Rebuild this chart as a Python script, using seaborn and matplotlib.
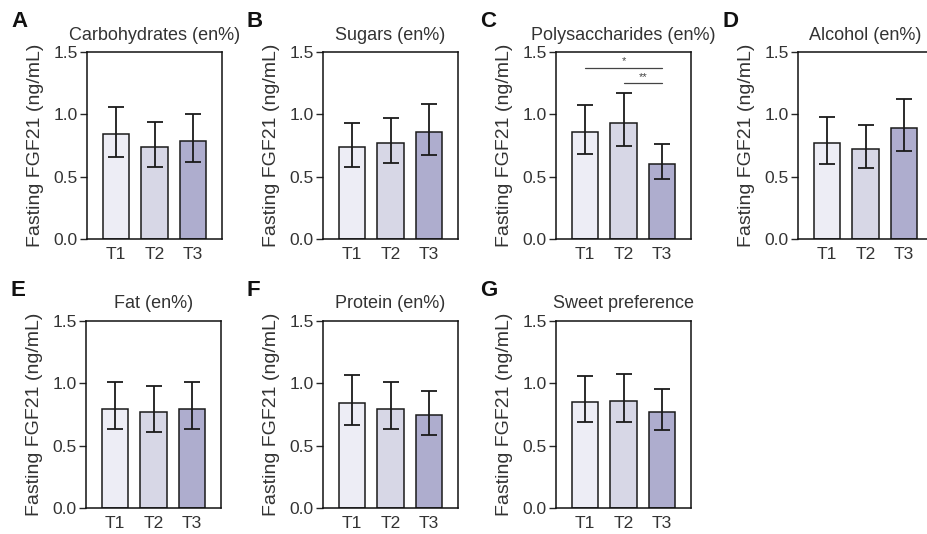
import matplotlib
matplotlib.use("Agg")
import matplotlib.pyplot as plt
import seaborn as sns
import numpy as np
import pandas as pd

sns.set_theme(style="ticks")
plt.rcParams["font.family"] = ["Liberation Sans", "DejaVu Sans"]

# Tertile groups and bar colours
tertiles = ["T1", "T2", "T3"]
tertile_colors = ["#ececf6", "#d4d5e9", "#a9a8d3"]

# Fasting FGF21 (ng/mL): mean with lower / upper bounds of the interval
carb_mean = [0.84, 0.74, 0.79]
carb_lo = [0.66, 0.58, 0.62]
carb_hi = [1.06, 0.935, 1.00]

sugar_mean = [0.735, 0.767, 0.855]
sugar_lo = [0.577, 0.609, 0.674]
sugar_hi = [0.933, 0.973, 1.083]

poly_mean = [0.858, 0.933, 0.604]
poly_lo = [0.682, 0.746, 0.481]
poly_hi = [1.078, 1.174, 0.762]

alcohol_mean = [0.769, 0.721, 0.892]
alcohol_lo = [0.605, 0.573, 0.705]
alcohol_hi = [0.975, 0.911, 1.125]

fat_mean = [0.796, 0.771, 0.796]
fat_lo = [0.630, 0.608, 0.630]
fat_hi = [1.010, 0.978, 1.010]

protein_mean = [0.841, 0.796, 0.745]
protein_lo = [0.667, 0.630, 0.589]
protein_hi = [1.066, 1.010, 0.938]

sweet_mean = [0.852, 0.857, 0.771]
sweet_lo = [0.691, 0.686, 0.624]
sweet_hi = [1.058, 1.074, 0.956]

# Pairwise significance for polysaccharides: (group a, group b, bracket height, label)
poly_sig = [(0, 2, 1.374, "*"), (1, 2, 1.249, "**")]

y_ticks = [0.0, 0.5, 1.0, 1.5]
y_label = "Fasting FGF21 (ng/mL)"

panels = [
    ("A", "Carbohydrates (en%)", carb_mean, carb_lo, carb_hi, None),
    ("B", "Sugars (en%)", sugar_mean, sugar_lo, sugar_hi, None),
    ("C", "Polysaccharides (en%)", poly_mean, poly_lo, poly_hi, poly_sig),
    ("D", "Alcohol (en%)", alcohol_mean, alcohol_lo, alcohol_hi, None),
    ("E", "Fat (en%)", fat_mean, fat_lo, fat_hi, None),
    ("F", "Protein (en%)", protein_mean, protein_lo, protein_hi, None),
    ("G", "Sweet preference", sweet_mean, sweet_lo, sweet_hi, None),
]

W, H = 927, 534
fig = plt.figure(figsize=(W / 100, H / 100), dpi=100)

# axes boxes in pixels: left, top
boxes = [(87, 52), (323, 52), (556, 52), (798, 52),
         (86, 321), (323, 321), (556, 321)]
ax_w, ax_h = 135, 187

text_color = "#333333"

for (letter, title, mean, lo, hi, sig), (left, top) in zip(panels, boxes):
    ax = fig.add_axes([left / W, (H - top - ax_h) / H, ax_w / W, ax_h / H])
    df = pd.DataFrame({"tertile": tertiles, "fgf21": mean})
    sns.barplot(data=df, x="tertile", y="fgf21", hue="tertile",
                palette=tertile_colors, legend=False, errorbar=None,
                width=0.675, edgecolor="#1a1a1a", linewidth=1.1, ax=ax)
    m = np.asarray(mean)
    yerr = np.vstack([m - np.asarray(lo), np.asarray(hi) - m])
    ax.errorbar(np.arange(len(tertiles)), m, yerr=yerr, fmt="none",
                ecolor="#1a1a1a", elinewidth=1.3, capsize=5.5, capthick=1.3,
                zorder=5)
    if sig:
        for a, b, yv, lab in sig:
            ax.plot([a, b], [yv, yv], color="#444444", lw=0.9)
            ax.text((a + b) / 2, yv + 0.012, lab, ha="center", va="bottom",
                    fontsize=8, color="#444444")
    ax.set_xlim(-0.75, 2.75)
    ax.set_ylim(0, 1.5)
    ax.set_yticks(y_ticks)
    ax.set_yticklabels([f"{t:.1f}" for t in y_ticks])
    ax.set_xlabel("")
    ax.set_ylabel(y_label, fontsize=14, color=text_color, labelpad=7)
    ax.set_title(title, fontsize=13, color=text_color, pad=9)
    ax.tick_params(axis="y", length=5, width=1, labelsize=12.5,
                   labelcolor=text_color, pad=1.5)
    ax.tick_params(axis="x", length=0, labelsize=12.5,
                   labelcolor=text_color, pad=6)
    for s in ax.spines.values():
        s.set_visible(True)
        s.set_linewidth(1.1)
        s.set_color("#111111")
    fig.text((left - 76) / W, 1 - (top - 25) / H, letter, fontsize=16,
             fontweight="bold", color="#111111", ha="left", va="baseline")

fig.savefig("out.png", dpi=100)
